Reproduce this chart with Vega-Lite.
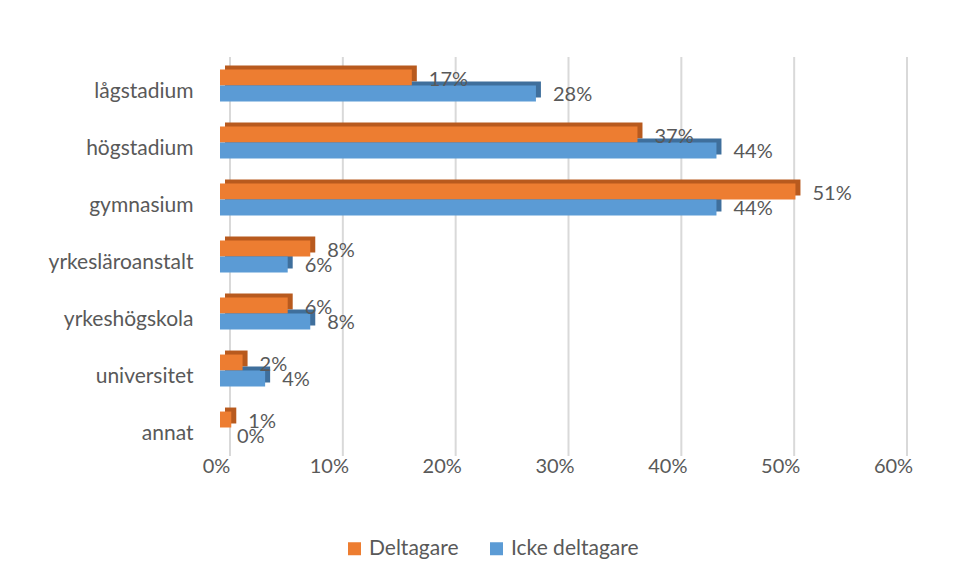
{
  "$schema": "https://vega.github.io/schema/vega-lite/v6.json",
  "width": 677,
  "height": 399,
  "autosize": {"type": "none"},
  "padding": {"left": 220, "top": 57, "right": 61, "bottom": 124},
  "background": "white",
  "config": {"view": {"stroke": null}, "font": "Lato"},
  "datasets": {
    "bars": [
      {"cat": "lågstadium", "series": "Deltagare", "v": 0.17},
      {"cat": "lågstadium", "series": "Icke deltagare", "v": 0.28},
      {"cat": "högstadium", "series": "Deltagare", "v": 0.37},
      {"cat": "högstadium", "series": "Icke deltagare", "v": 0.44},
      {"cat": "gymnasium", "series": "Deltagare", "v": 0.51},
      {"cat": "gymnasium", "series": "Icke deltagare", "v": 0.44},
      {"cat": "yrkesläroanstalt", "series": "Deltagare", "v": 0.08},
      {"cat": "yrkesläroanstalt", "series": "Icke deltagare", "v": 0.06},
      {"cat": "yrkeshögskola", "series": "Deltagare", "v": 0.06},
      {"cat": "yrkeshögskola", "series": "Icke deltagare", "v": 0.08},
      {"cat": "universitet", "series": "Deltagare", "v": 0.02},
      {"cat": "universitet", "series": "Icke deltagare", "v": 0.04},
      {"cat": "annat", "series": "Deltagare", "v": 0.01},
      {"cat": "annat", "series": "Icke deltagare", "v": 0.0}
    ],
    "grid": [{"g": 0}, {"g": 0.1}, {"g": 0.2}, {"g": 0.3}, {"g": 0.4}, {"g": 0.5}, {"g": 0.6}]
  },
  "resolve": {"scale": {"color": "independent", "y": "independent"}, "axis": {"y": "independent"}},
  "layer": [
    {
      "data": {"name": "grid"},
      "mark": {"type": "rule", "color": "#d9d9d9", "strokeWidth": 2, "xOffset": 10},
      "encoding": {
        "x": {"field": "g", "type": "quantitative", "scale": {"domain": [0, 0.6], "nice": false}}
      }
    },
    {
      "data": {"name": "bars"},
      "mark": {"type": "bar", "xOffset": 5, "x2Offset": 5},
      "encoding": {
        "y": {"field": "cat", "type": "nominal", "sort": ["lågstadium", "högstadium", "gymnasium", "yrkesläroanstalt", "yrkeshögskola", "universitet", "annat"], "scale": {"paddingInner": 0.44, "paddingOuter": 0.22, "align": 0.34}, "axis": null},
        "yOffset": {"field": "series", "type": "nominal", "sort": ["Deltagare", "Icke deltagare"]},
        "x": {"field": "v", "type": "quantitative"},
        "color": {"field": "series", "type": "nominal", "scale": {"domain": ["Deltagare", "Icke deltagare"], "range": ["#B85A1E", "#3F6F9C"]}, "legend": null}
      }
    },
    {
      "data": {"name": "bars"},
      "mark": {"type": "bar"},
      "encoding": {
        "y": {"field": "cat", "type": "nominal", "sort": ["lågstadium", "högstadium", "gymnasium", "yrkesläroanstalt", "yrkeshögskola", "universitet", "annat"], "scale": {"paddingInner": 0.44, "paddingOuter": 0.22},
          "axis": {"title": null, "domain": false, "ticks": false, "labelPadding": 27, "labelOffset": 6, "labelFontSize": 21, "labelColor": "#595959", "labelFont": "Lato"}},
        "yOffset": {"field": "series", "type": "nominal", "sort": ["Deltagare", "Icke deltagare"]},
        "x": {"field": "v", "type": "quantitative", "scale": {"domain": [0, 0.6], "nice": false},
          "axis": {"title": null, "format": ".0%", "values": [0, 0.1, 0.2, 0.3, 0.4, 0.5, 0.6], "grid": false, "domain": false, "ticks": false, "labelFlush": false, "labelPadding": 0, "labelOffset": -4, "labelFontSize": 20, "labelColor": "#595959", "labelFont": "Lato"}},
        "color": {"field": "series", "type": "nominal", "scale": {"domain": ["Deltagare", "Icke deltagare"], "range": ["#ED7D31", "#5B9BD5"]},
          "legend": {"title": null, "orient": "none", "direction": "horizontal", "legendX": 124, "legendY": 481, "symbolType": "square", "symbolSize": 169, "symbolStrokeWidth": 0, "labelFontSize": 21, "labelColor": "#595959", "labelFont": "Lato", "columnPadding": 27, "labelOffset": 4}}
      }
    },
    {
      "data": {"name": "bars"},
      "mark": {"type": "text", "align": "left", "baseline": "middle", "dx": 17, "dy": 2, "fontSize": 20, "color": "#595959", "font": "Lato"},
      "encoding": {
        "y": {"field": "cat", "type": "nominal", "sort": ["lågstadium", "högstadium", "gymnasium", "yrkesläroanstalt", "yrkeshögskola", "universitet", "annat"], "scale": {"paddingInner": 0.44, "paddingOuter": 0.22}, "axis": null},
        "yOffset": {"field": "series", "type": "nominal", "sort": ["Deltagare", "Icke deltagare"]},
        "x": {"field": "v", "type": "quantitative"},
        "text": {"field": "v", "type": "quantitative", "format": ".0%"}
      }
    }
  ]
}
